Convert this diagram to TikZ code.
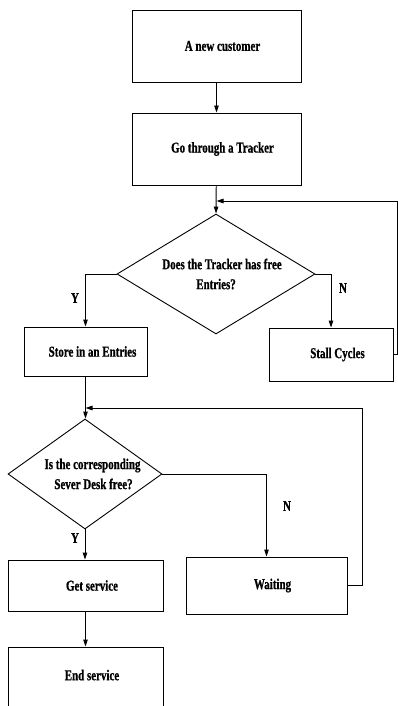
\documentclass[tikz,border=0pt]{standalone}
\usepackage{fontspec}
\setmainfont{Liberation Serif}[FakeStretch=0.73,BoldFeatures={FakeBold=0.8}]
\usetikzlibrary{arrows.meta,shapes.geometric}
\begin{document}
\begin{tikzpicture}[x=1pt,y=-1pt,
  font=\fontsize{15}{20}\selectfont\bfseries,
  box/.style={draw,line width=0.9pt,inner sep=0pt,align=center},
  dia/.style={draw,diamond,line width=0.9pt,inner sep=0pt,align=center},
  conn/.style={line width=0.9pt},
  arr/.style={conn,-{Triangle[length=7pt,width=4.5pt]}},
  lab/.style={inner sep=0pt}]
\useasboundingbox (0,0) rectangle (398,706);
\clip (0,0) rectangle (398,706);
\node[box,minimum width=169pt,minimum height=72pt] (b1) at (216.5,46) {\hspace*{12pt}A new customer};
\node[box,minimum width=169pt,minimum height=72pt] (b2) at (216.5,149) {\hspace*{12pt}Go through a Tracker};
\node[dia,aspect=1.65,minimum width=198pt,minimum height=120pt] (d1) at (216,274) {\hspace*{12pt}Does the Tracker has free\\Entries?};
\node[box,minimum width=123pt,minimum height=49pt] (st) at (85.5,351.5) {\hspace*{14pt}Store in an Entries};
\node[box,minimum width=124pt,minimum height=53pt] (sc) at (331,354.5) {\hspace*{13pt}Stall Cycles};
\node[dia,aspect=1.4,minimum width=154pt,minimum height=110pt] (d2) at (85,474) {\hspace*{15pt}Is the corresponding\\\hspace*{17pt}Sever Desk free?};
\node[box,minimum width=155pt,minimum height=51pt] (gs) at (85.5,585.5) {\hspace*{13pt}Get service};
\node[box,minimum width=161pt,minimum height=57pt] (wt) at (266.5,585.5) {\hspace*{12pt}Waiting};
\node[box,minimum width=155pt,minimum height=100pt] (es) at (85.5,697) {\hspace*{13pt}End service\\[24pt]};
% labels
\node[lab] (y1) at (75,298) {Y};
\node[lab] (n1) at (343,288) {N};
\node[lab] (y2) at (75,538) {Y};
\node[lab] (n2) at (287,506) {N};
% coordinates
\coordinate (j1) at (216.5,201);
\coordinate (r1) at (397,201);
\coordinate (j2) at (85.5,408);
\coordinate (r2) at (362,408);
% connectors
\draw[arr] (b1) -- (b2);
\draw[arr] (b2) -- (d1.north);
\draw[arr] (d1.west) -| (st.north);
\draw[arr] (d1.east) -| (sc.north);
\draw[conn] (sc.east) -| (r1);
\draw[arr] (r1) -- (j1);
\draw[arr] (st.south) -- (st.south |- d2.north);
\draw[arr] (d2.east) -| (wt.north);
\draw[conn] (wt.east) -| (r2);
\draw[arr] (r2) -- (j2);
\draw[arr] (d2.south) -- (d2.south |- gs.north);
\draw[arr] (gs) -- (gs.south |- es.north);
\end{tikzpicture}
\end{document}
